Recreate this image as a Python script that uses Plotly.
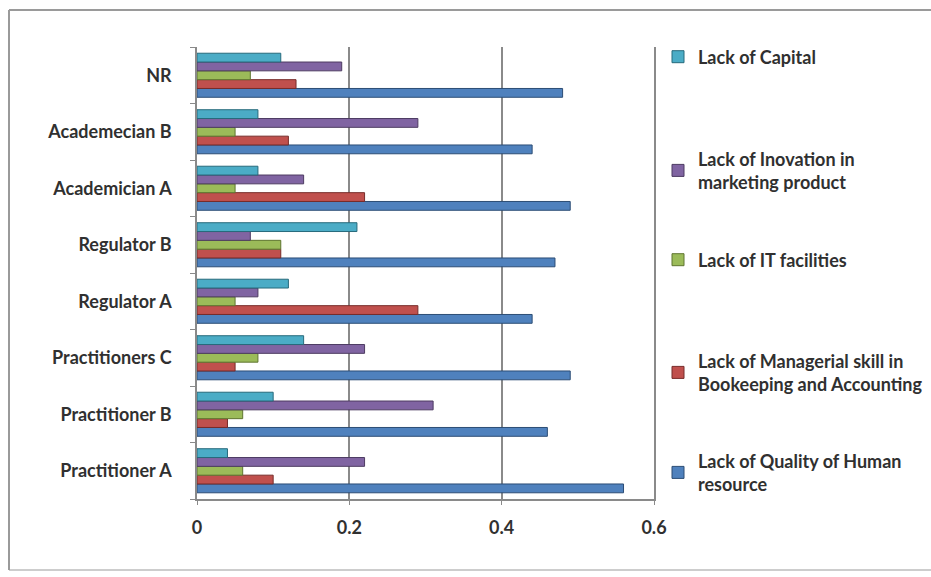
import plotly.graph_objects as go

categories = ["Practitioner A", "Practitioner B", "Practitioners C", "Regulator A",
              "Regulator B", "Academician A", "Academecian B", "NR"]
human = [0.56, 0.46, 0.49, 0.44, 0.47, 0.49, 0.44, 0.48]
managerial = [0.10, 0.04, 0.05, 0.29, 0.11, 0.22, 0.12, 0.13]
it_fac = [0.06, 0.06, 0.08, 0.05, 0.11, 0.05, 0.05, 0.07]
innovation = [0.22, 0.31, 0.22, 0.08, 0.07, 0.14, 0.29, 0.19]
capital = [0.04, 0.10, 0.14, 0.12, 0.21, 0.08, 0.08, 0.11]
x_ticks = [0, 0.2, 0.4, 0.6]
x_ticktext = ["0", "0.2", "0.4", "0.6"]

series = [
    ("Lack of Quality of Human<br>resource", human, "#4F81BD", "#2C4D75", "legend5"),
    ("Lack of Managerial skill in<br>Bookeeping and Accounting", managerial, "#C0504D", "#772C2A", "legend4"),
    ("Lack of IT facilities", it_fac, "#9BBB59", "#5F7530", "legend3"),
    ("Lack of Inovation in<br>marketing product", innovation, "#8064A2", "#4D3B62", "legend2"),
    ("Lack of Capital", capital, "#4BACC6", "#276A7C", "legend"),
]

FONT = "Lato"
TXT = "#303030"
FS = 18

fig = go.Figure()
for name, vals, col, edge, lg in series:
    fig.add_trace(go.Bar(
        y=categories, x=vals, name=name, orientation="h",
        marker=dict(color=col, line=dict(color=edge, width=1)),
        legend=lg, showlegend=True,
    ))

L, R, T, B = 197, 277, 47, 78
W, H = 931, 577
pw, ph = W - L - R, H - T - B

def px_to_paper_x(px):
    return (px - L) / pw

def py_to_paper_y(py):
    return (H - B - py) / ph

leg_x = px_to_paper_x(658)
legend_common = dict(x=leg_x, xanchor="left", yanchor="middle",
                     bgcolor="rgba(0,0,0,0)", borderwidth=0, visible=True,
                     font=dict(family=FONT, size=FS, color=TXT, weight="bold"),
                     itemclick=False, itemdoubleclick=False)

fig.update_layout(
    width=W, height=H,
    margin=dict(l=L, r=R, t=T, b=B, autoexpand=False),
    paper_bgcolor="white", plot_bgcolor="white",
    showlegend=True,
    barmode="group", bargap=0.22, bargroupgap=0,
    font=dict(family=FONT, size=FS, color=TXT),
    legend=dict(y=py_to_paper_y(57), **legend_common),
    legend2=dict(y=py_to_paper_y(170.5), **legend_common),
    legend3=dict(y=py_to_paper_y(260), **legend_common),
    legend4=dict(y=py_to_paper_y(372.5), **legend_common),
    legend5=dict(y=py_to_paper_y(472.5), **legend_common),
    xaxis=dict(range=[0, 0.6], tickvals=x_ticks, ticktext=x_ticktext,
               showgrid=True, gridcolor="#8A8A8A", gridwidth=1.5,
               showline=True, linecolor="#8A8A8A", linewidth=1.5,
               ticks="outside", ticklen=4, tickcolor="#8A8A8A",
               ticklabelstandoff=8, zeroline=False,
               tickfont=dict(family=FONT, size=FS, color=TXT, weight="bold"),
               fixedrange=True),
    yaxis=dict(categoryorder="array", categoryarray=categories,
               showline=True, mirror=True, linecolor="#8A8A8A", linewidth=1.5,
               ticks="outside", tickson="boundaries", ticklen=5, tickcolor="#8A8A8A",
               ticklabelstandoff=20, showgrid=False,
               tickfont=dict(family=FONT, size=FS, color=TXT, weight="bold"),
               fixedrange=True),
    shapes=[
        dict(type="line", xref="paper", yref="paper",
             x0=px_to_paper_x(9), x1=px_to_paper_x(1200),
             y0=py_to_paper_y(10), y1=py_to_paper_y(10),
             line=dict(color="#9A9A9A", width=2), layer="below"),
        dict(type="line", xref="paper", yref="paper",
             x0=px_to_paper_x(9), x1=px_to_paper_x(1200),
             y0=py_to_paper_y(570), y1=py_to_paper_y(570),
             line=dict(color="#BDBDBD", width=1.5), layer="below"),
        dict(type="line", xref="paper", yref="paper",
             x0=px_to_paper_x(9), x1=px_to_paper_x(9),
             y0=py_to_paper_y(570), y1=py_to_paper_y(10),
             line=dict(color="#9A9A9A", width=2), layer="below"),
    ],
)

fig.write_html("out.html", config={"displayModeBar": False},
               post_script="document.body.style.margin='0';")
